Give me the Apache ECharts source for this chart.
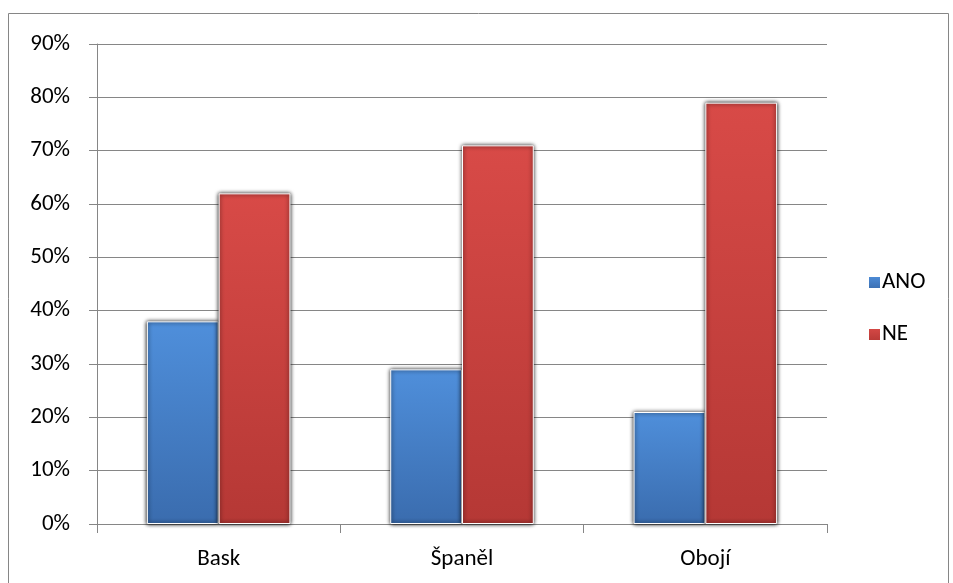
<!DOCTYPE html>
<html><head><meta charset="utf-8">
<script src="https://cdn.jsdelivr.net/npm/echarts@6/dist/echarts.min.js"></script>
<style>html,body{margin:0;padding:0;background:#fff}#c{width:953px;height:583px}</style>
</head><body><div id="c"></div>
<script>
const categories = ['Bask', 'Španěl', 'Obojí'];
const seriesNames = ['ANO', 'NE'];
const anoValues = [0.38, 0.29, 0.21];
const neValues = [0.62, 0.71, 0.79];

const font = 'Carlito, "Open Sans", "Noto Sans", sans-serif';
const grad = (a, b) => new echarts.graphic.LinearGradient(0, 0, 0, 1, [{offset: 0, color: a}, {offset: 1, color: b}]);
const blueFill = grad('#4f8fdb', '#3a6cae');
const redFill = grad('#d84a47', '#b53835');

const chart = echarts.init(document.getElementById('c'));
chart.setOption({
  animation: false,
  graphic: [{type: 'rect', shape: {x: 8.5, y: 13.5, width: 940, height: 600}, style: {fill: 'none', stroke: '#868686', lineWidth: 1}, silent: true}],
  grid: {left: 97, right: 126, top: 44, bottom: 59},
  legend: {
    orient: 'vertical', left: 862, top: 266, itemGap: 29, itemWidth: 13, itemHeight: 13,
    icon: 'rect',
    textStyle: {fontFamily: font, fontSize: 23, color: '#000', padding: [0, 0, 0, -4]},
    data: seriesNames
  },
  xAxis: {
    type: 'category', data: categories,
    axisLine: {lineStyle: {color: '#868686'}},
    axisTick: {show: true, length: 9, lineStyle: {color: '#868686'}},
    axisLabel: {fontFamily: font, fontSize: 23, color: '#000', margin: 24}
  },
  yAxis: {
    type: 'value', min: 0, max: 0.9, interval: 0.1,
    axisLine: {show: true, lineStyle: {color: '#868686'}},
    axisTick: {show: true, length: 8, lineStyle: {color: '#868686'}},
    splitLine: {lineStyle: {color: '#868686'}},
    axisLabel: {fontFamily: font, fontSize: 23, color: '#000', margin: 27,
      formatter: v => Math.round(v * 100) + '%'}
  },
  series: [
    {name: 'ANO', type: 'bar', data: anoValues, barGap: '0%', barCategoryGap: '41%',
     itemStyle: {color: blueFill, borderColor: '#fff', borderWidth: 1, shadowColor: '#000', shadowBlur: 4}},
    {name: 'NE', type: 'bar', data: neValues,
     itemStyle: {color: redFill, borderColor: '#fff', borderWidth: 1, shadowColor: '#000', shadowBlur: 4}}
  ]
});
</script></body></html>
